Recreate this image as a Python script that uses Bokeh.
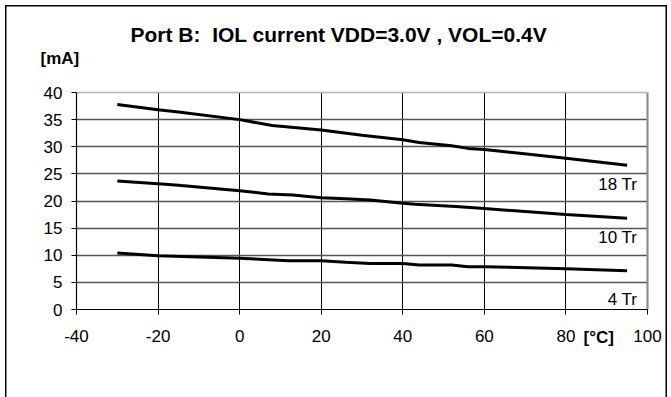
from bokeh.plotting import figure
from bokeh.models import Label, FixedTicker, Range1d, Grid
from bokeh.embed import file_html
from bokeh.resources import INLINE

# Data
temp_18 = [-30, -20, -15, 0, 8, 20, 30, 40, 44, 52, 56, 60, 80, 95]
cur_18 = [37.8, 36.8, 36.4, 35.0, 33.9, 33.1, 32.1, 31.3, 30.8, 30.2, 29.7, 29.5, 27.9, 26.6]

temp_10 = [-30, -20, -15, 0, 7, 13, 20, 26, 32, 40, 43, 53, 60, 80, 95]
cur_10 = [23.7, 23.2, 22.9, 21.9, 21.3, 21.1, 20.6, 20.4, 20.2, 19.6, 19.4, 19.0, 18.6, 17.5, 16.8]

temp_4 = [-30, -20, 0, 12, 20, 26, 32, 40, 44, 52, 56, 60, 80, 95]
cur_4 = [10.4, 9.9, 9.45, 9.0, 9.0, 8.7, 8.5, 8.5, 8.2, 8.2, 7.9, 7.9, 7.5, 7.15]

x_ticks = [-40, -20, 0, 20, 40, 60, 80, 100]
x_tick_labels = ["-40", "-20", "0", "20", "40", "60", "80", "100"]
y_ticks = [0, 5, 10, 15, 20, 25, 30, 35, 40]

series_labels = ["18 Tr", "10 Tr", "4 Tr"]
series_label_y = [23.1, 13.2, 1.9]

title_text = "Port B:\u00a0 IOL current VDD=3.0V , VOL=0.4V"
y_unit = "[mA]"
x_unit = "[°C]"

FONT = "Liberation Sans"

X_MIN, X_MAX = -40, 100
Y_MIN, Y_MAX = 0, 40

# the frame covers the whole chart area so that titles can live inside it;
# axes are pinned to the data box with fixed_location / bounds
p = figure(
    width=671, height=397,
    frame_width=633, frame_height=357,
    min_border_left=38, min_border_right=0,
    min_border_top=0, min_border_bottom=40,
    x_range=Range1d(-49.317, 105.884), y_range=Range1d(-8.848, 56.959),
    output_backend="svg", toolbar_location=None,
)
# outer chart-area frame (left, top, right) drawn with inset shadows
p.styles = {"box-shadow": "inset 5px 5px 0 white, inset -4px 0 0 white, "
                          "inset 6.5px 6.5px 0 black, inset -5.5px 0 0 black"}
p.background_fill_color = None
p.border_fill_color = None
p.outline_line_color = None

p.xaxis.ticker = FixedTicker(ticks=x_ticks)
p.xaxis.major_label_overrides = {t: s for t, s in zip(x_ticks, x_tick_labels)}
p.xaxis.fixed_location = Y_MIN
p.xaxis.bounds = (X_MIN, X_MAX)
p.yaxis.ticker = FixedTicker(ticks=y_ticks)
p.yaxis.fixed_location = X_MIN
p.yaxis.bounds = (Y_MIN, Y_MAX)
for ax in (p.xaxis, p.yaxis):
    ax.axis_line_color = "black"
    ax.axis_line_width = 1.2
    ax.major_tick_line_color = "black"
    ax.major_tick_out = 5
    ax.major_tick_in = 0
    ax.minor_tick_line_color = None
    ax.major_label_text_font = FONT
    ax.major_label_text_font_size = "17px"
    ax.major_label_text_color = "black"
p.xaxis.major_label_standoff = 15
p.yaxis.major_label_standoff = 9

p.xgrid.ticker = FixedTicker(ticks=x_ticks[1:-1])
p.xgrid.cross_bounds = (Y_MIN, Y_MAX)
p.xgrid.grid_line_color = "black"
p.xgrid.grid_line_width = 1
p.ygrid.ticker = FixedTicker(ticks=y_ticks[1:-1])
p.ygrid.cross_bounds = (X_MIN, X_MAX)
p.ygrid.grid_line_color = "#555555"
p.ygrid.grid_line_width = 1.3

# plot-area border on the top and right (grey, like the reference)
p.add_layout(Grid(dimension=0, ticker=FixedTicker(ticks=[X_MAX]), cross_bounds=(Y_MIN, Y_MAX),
                  grid_line_color="#8c8c8c", grid_line_width=2.2))
p.add_layout(Grid(dimension=1, ticker=FixedTicker(ticks=[Y_MAX]), cross_bounds=(X_MIN, X_MAX),
                  grid_line_color="#b4b4b4", grid_line_width=1.6))

for xs, ys in ((temp_18, cur_18), (temp_10, cur_10), (temp_4, cur_4)):
    p.line(xs, ys, line_color="black", line_width=3)

for txt, yv in zip(series_labels, series_label_y):
    p.add_layout(Label(x=97.5, y=yv, text=txt, text_align="right",
                       text_baseline="alphabetic", text_font=FONT,
                       text_font_size="17px", text_color="black"))

p.add_layout(Label(x=-26.76, y=50.65, text=title_text, text_align="left",
                   text_baseline="alphabetic", text_font=FONT,
                   text_font_size="21px", text_font_style="bold", text_color="black"))
p.add_layout(Label(x=-48.83, y=46.33, text=y_unit, text_align="left",
                   text_baseline="alphabetic", text_font=FONT,
                   text_font_size="17px", text_font_style="bold", text_color="black"))
p.add_layout(Label(x=84.31, y=-5.1, text=x_unit, text_align="left",
                   text_baseline="alphabetic", text_font=FONT,
                   text_font_size="17px", text_font_style="bold", text_color="black"))

open("out.html", "w").write(file_html(p, INLINE))
